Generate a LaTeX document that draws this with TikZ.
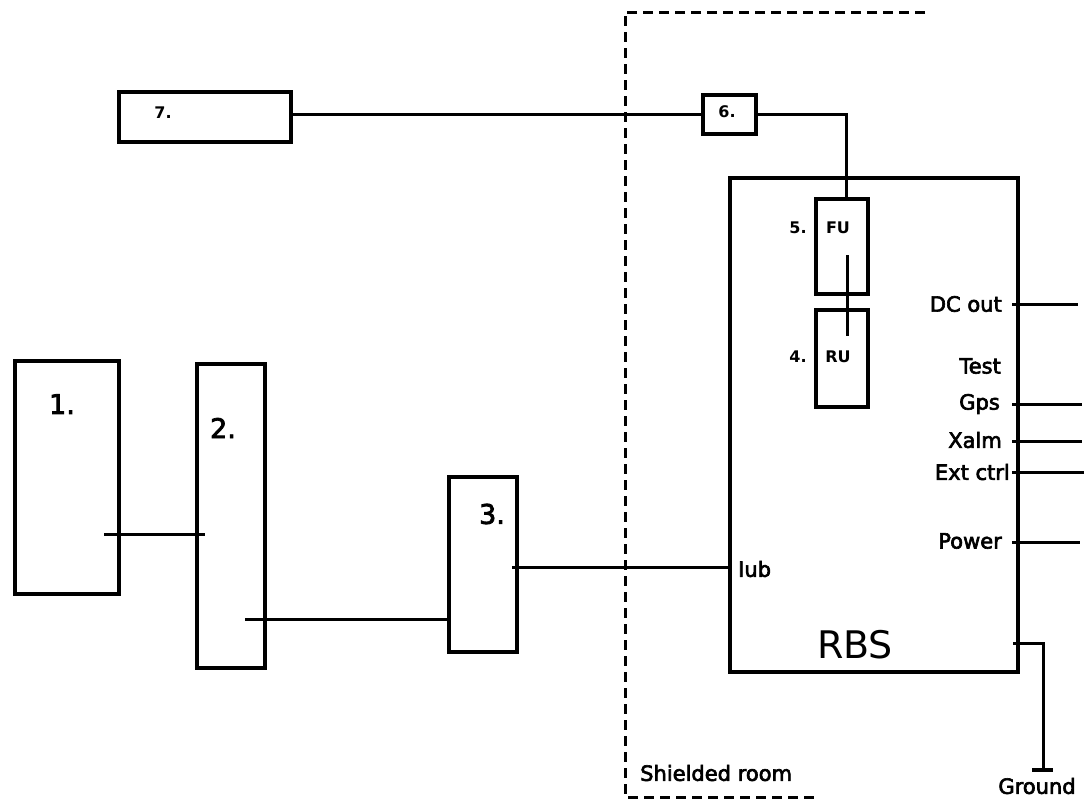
\documentclass[tikz,border=0pt]{standalone}
\usepackage{fontspec}
\setmainfont{DejaVu Sans}
\newfontfamily\heavy{DejaVu Sans}[FakeBold=3]
\begin{document}
\begin{tikzpicture}[x=1pt,y=-1pt,
  box/.style={draw,line width=3.5pt,inner sep=0pt,anchor=north west},
  wire/.style={line width=3pt},
  lbl/.style={font=\heavy\fontsize{21}{24}\selectfont,inner sep=0pt},
  small/.style={font=\bfseries\fontsize{16}{18}\selectfont,inner sep=0pt},
  num/.style={font=\heavy\fontsize{27}{30}\selectfont,inner sep=0pt},
  room/.style={line width=3pt,dash pattern=on 10pt off 6pt}]
\useasboundingbox (0,0) rectangle (1084,801);
% shielded room
\draw[room] (925,12) -- (625,12) -- (625,797) -- (818,797);
\node[lbl,anchor=west] (sr) at (640,773) {Shielded room};
% boxes
\node[box,minimum width=172pt,minimum height=50pt] (b7) at (117,90) {};
\node[box,minimum width=53pt,minimum height=39pt] (b6) at (701,93) {};
\node[box,minimum width=288pt,minimum height=494pt] (rbs) at (728,176) {};
\node[box,minimum width=52pt,minimum height=95pt] (fu) at (814,197) {};
\node[box,minimum width=52pt,minimum height=97pt] (ru) at (814,308) {};
\node[box,minimum width=104pt,minimum height=233pt] (b1) at (13,359) {};
\node[box,minimum width=68pt,minimum height=304pt] (b2) at (195,362) {};
\node[box,minimum width=68pt,minimum height=175pt] (b3) at (447,475) {};
% labels
\node[small] (l7) at (163,113) {7.};
\node[small] (l6) at (727,112) {6.};
\node[small] (lfu) at (838,228) {FU};
\node[small] (l5) at (798,228) {5.};
\node[small] (lru) at (838,357) {RU};
\node[small] (l4) at (798,357) {4.};
\node[num] (l1) at (62,404) {1.};
\node[num] (l2) at (223,428) {2.};
\node[num] (l3) at (492,514) {3.};
\node[font=\fontsize{38}{42}\selectfont,inner sep=0pt] (lrbs) at (855,645) {RBS};
\node[lbl,anchor=west] (iub) at (738,569) {Iub};
\node[lbl,anchor=east] (dc) at (1002,304) {DC out};
\node[lbl,anchor=east] (test) at (1001,366) {Test};
\node[lbl,anchor=east] (gps) at (1000,404) {Gps};
\node[lbl,anchor=east] (xalm) at (1002,440) {Xalm};
\node[lbl,anchor=east] (ext) at (1010,472) {Ext ctrl};
\node[lbl,anchor=east] (pow) at (1002,541) {Power};
\node[lbl] (gnd) at (1037,786) {Ground};
% connectors
\draw[wire] (b6.west -| b7.east) -- (b6.west);
\draw[wire] (b6.east) -| ([xshift=5pt]fu.north);
\coordinate (fr1) at (847,255);
\coordinate (fr2) at (847,336);
\draw[wire] (fr1) -- (fr2);
\coordinate (c12a) at (104,534);
\coordinate (c12b) at (205,534);
\draw[wire] (c12a) -- (c12b);
\coordinate (c23a) at (245,619);
\draw[wire] (c23a) -- (c23a -| b3.west);
\coordinate (c3i) at (512,567);
\draw[wire] (c3i) -- (c3i -| rbs.west);
\coordinate (pdc) at (1012,304);
\coordinate (pgps) at (1012,404);
\coordinate (pxalm) at (1012,441);
\coordinate (pext) at (1012,472);
\coordinate (ppow) at (1012,542);
\draw[wire] (pdc) -- ++(66,0);
\draw[wire] (pgps) -- ++(70,0);
\draw[wire] (pxalm) -- ++(70,0);
\draw[wire] (pext) -- ++(72,0);
\draw[wire] (ppow) -- ++(68,0);
\coordinate (g0) at (1013,643);
\coordinate (g1) at (1043,770);
\draw[wire] (g0) -| (g1);
\draw[line width=4pt] ([xshift=-11pt]g1) -- ([xshift=10pt]g1);
\end{tikzpicture}
\end{document}
